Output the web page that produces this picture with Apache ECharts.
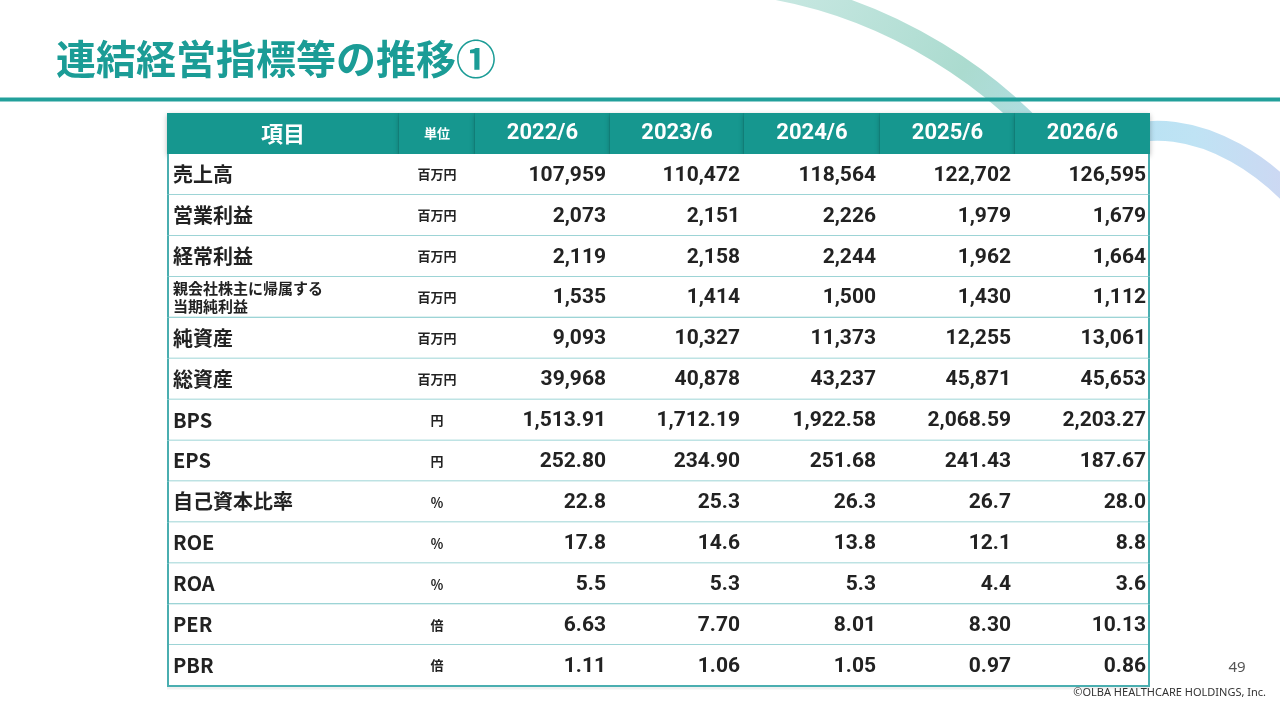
<!DOCTYPE html>
<html><head><meta charset="utf-8">
<script src="https://cdn.jsdelivr.net/npm/echarts@6/dist/echarts.min.js"></script>
<style>html,body{margin:0;padding:0;background:#fff}#c{width:1280px;height:720px}</style>
</head><body><div id="c"></div>
<script>
// ---- data ----
const titleText = '連結経営指標等の推移①';
const headerItem = '項目';
const headerUnit = '単位';
const years = ['2022/6', '2023/6', '2024/6', '2025/6', '2026/6'];
const items = ['売上高', '営業利益', '経常利益', '親会社株主に帰属する\n当期純利益', '純資産', '総資産', 'BPS', 'EPS', '自己資本比率', 'ROE', 'ROA', 'PER', 'PBR'];
const units = ['百万円', '百万円', '百万円', '百万円', '百万円', '百万円', '円', '円', '％', '％', '％', '倍', '倍'];
const decimals = [0, 0, 0, 0, 0, 0, 2, 2, 1, 1, 1, 2, 2];
const fy2022 = [107959, 2073, 2119, 1535, 9093, 39968, 1513.91, 252.80, 22.8, 17.8, 5.5, 6.63, 1.11];
const fy2023 = [110472, 2151, 2158, 1414, 10327, 40878, 1712.19, 234.90, 25.3, 14.6, 5.3, 7.70, 1.06];
const fy2024 = [118564, 2226, 2244, 1500, 11373, 43237, 1922.58, 251.68, 26.3, 13.8, 5.3, 8.01, 1.05];
const fy2025 = [122702, 1979, 1962, 1430, 12255, 45871, 2068.59, 241.43, 26.7, 12.1, 4.4, 8.30, 0.97];
const fy2026 = [126595, 1679, 1664, 1112, 13061, 45653, 2203.27, 187.67, 28.0, 8.8, 3.6, 10.13, 0.86];
const pageNumber = '49';
const copyright = '©OLBA HEALTHCARE HOLDINGS, Inc.';

// ---- layout (column widths in x-axis units) ----
const colWidths = [232, 76, 135, 134, 136, 135, 135];
const colEdges = [0];
colWidths.forEach(w => colEdges.push(colEdges[colEdges.length - 1] + w));
const rowsCat = ['header'].concat(items);
const yearValues = [fy2022, fy2023, fy2024, fy2025, fy2026];

function fmt(v, d) {
  return v.toLocaleString('en-US', { minimumFractionDigits: d, maximumFractionDigits: d });
}

const cells = [];
const headerTexts = [headerItem, headerUnit].concat(years);
headerTexts.forEach((t, c) => cells.push({ value: [(colEdges[c] + colEdges[c + 1]) / 2, 0, c], text: t }));
items.forEach((it, r) => {
  cells.push({ value: [(colEdges[0] + colEdges[1]) / 2, r + 1, 0], text: it });
  cells.push({ value: [(colEdges[1] + colEdges[2]) / 2, r + 1, 1], text: units[r] });
  yearValues.forEach((arr, k) => {
    const c = k + 2;
    cells.push({ value: [(colEdges[c] + colEdges[c + 1]) / 2, r + 1, c], text: fmt(arr[r], decimals[r]) });
  });
});

const NUM_FONT = 'Roboto, "Liberation Sans", sans-serif';
const JP_FONT = '"Noto Sans CJK JP", "Noto Sans", sans-serif';
const TEAL = '#16978f';

function renderItem(params, api) {
  const col = api.value(2);
  const row = api.value(1);
  const p0 = api.coord([colEdges[col], row]);
  const p1 = api.coord([colEdges[col + 1], row]);
  const h = api.size([0, 1])[1];
  const x0 = p0[0], x1 = p1[0], yc = p0[1];
  const top = yc - h / 2, bottom = yc + h / 2;
  const text = cells[params.dataIndex].text;
  const children = [];
  if (row === 0) {
    children.push({ type: 'rect', shape: { x: x0, y: top, width: x1 - x0, height: h },
      style: { fill: TEAL, shadowBlur: 5, shadowOffsetY: 2, shadowColor: 'rgba(0,0,0,0.28)' } });
    if (col < colWidths.length - 1) {
      children.push({ type: 'line', shape: { x1: x1, y1: top, x2: x1, y2: bottom },
        style: { stroke: 'rgba(0,60,60,0.18)', lineWidth: 1 } });
    }
    const fs = col === 1 ? 13 : 22;
    children.push({ type: 'text', x: (x0 + x1) / 2, y: yc,
      style: { text: text, fill: '#fff', fontSize: fs, fontWeight: 'bold',
        fontFamily: col >= 2 ? NUM_FONT : JP_FONT, align: 'center', verticalAlign: 'middle' } });
    return { type: 'group', z2: 10, children: children };
  }
  children.push({ type: 'rect', shape: { x: x0, y: top, width: x1 - x0, height: h }, style: { fill: '#fff' } });
  children.push({ type: 'line', shape: { x1: x0, y1: bottom + 2, x2: x1, y2: bottom + 2 },
    style: { stroke: 'rgba(0,0,0,0.06)', lineWidth: 3 } });
  const last = row === rowsCat.length - 1;
  children.push({ type: 'line', shape: { x1: x0, y1: bottom, x2: x1, y2: bottom },
    style: { stroke: last ? '#4aaeb0' : '#7cc6c8', lineWidth: last ? 2 : 1.6 } });
  if (col === 0) {
    children.push({ type: 'line', shape: { x1: x0 + 1, y1: top, x2: x0 + 1, y2: bottom },
      style: { stroke: '#4aaeb0', lineWidth: 2 } });
  }
  if (col === colWidths.length - 1) {
    children.push({ type: 'line', shape: { x1: x1 - 1, y1: top, x2: x1 - 1, y2: bottom },
      style: { stroke: '#4aaeb0', lineWidth: 2 } });
  }
  if (col === 0) {
    const small = text.indexOf('\n') >= 0;
    children.push({ type: 'text', x: x0 + 6, y: yc,
      style: { text: text, fill: '#222', fontSize: small ? 15 : 20, fontWeight: 'bold',
        lineHeight: small ? 18 : 24, fontFamily: JP_FONT, align: 'left', verticalAlign: 'middle' } });
  } else if (col === 1) {
    children.push({ type: 'text', x: (x0 + x1) / 2, y: yc,
      style: { text: text, fill: '#222', fontSize: 13, fontWeight: 'bold', fontFamily: JP_FONT,
        align: 'center', verticalAlign: 'middle' } });
  } else {
    children.push({ type: 'text', x: x1 - 4, y: yc + 1,
      style: { text: text, fill: '#222', fontSize: 21, fontWeight: 'bold', fontFamily: NUM_FONT,
        align: 'right', verticalAlign: 'middle' } });
  }
  return { type: 'group', children: children };
}

const chart = echarts.init(document.getElementById('c'), null, { renderer: 'canvas' });
chart.setOption({
  backgroundColor: '#fff',
  animation: false,
  grid: { left: 167, right: 130, top: 113, bottom: 34, containLabel: false },
  xAxis: { type: 'value', min: 0, max: colEdges[colEdges.length - 1], show: false },
  yAxis: { type: 'category', data: rowsCat, inverse: true, show: false },
  graphic: [
    { type: 'bezierCurve', z: 1, silent: true,
      shape: { x1: 765, y1: -12, cpx1: 890, cpy1: 8, cpx2: 1000, cpy2: 80, x2: 1065, y2: 165 },
      style: { fill: null, lineWidth: 20, lineCap: 'butt',
        stroke: new echarts.graphic.LinearGradient(0, 0, 1, 1, [
          { offset: 0, color: 'rgba(160,215,205,0.55)' },
          { offset: 0.6, color: 'rgba(150,210,195,0.8)' },
          { offset: 1, color: 'rgba(160,215,235,0.8)' }]) } },
    { type: 'bezierCurve', z: 1, silent: true,
      shape: { x1: 1090, y1: 160, cpx1: 1120, cpy1: 118, cpx2: 1215, cpy2: 112, x2: 1300, y2: 205 },
      style: { fill: null, lineWidth: 20, lineCap: 'butt',
        stroke: new echarts.graphic.LinearGradient(0, 0, 1, 0, [
          { offset: 0, color: 'rgba(170,222,242,0.9)' },
          { offset: 0.5, color: 'rgba(180,222,242,0.85)' },
          { offset: 1, color: 'rgba(200,205,240,0.85)' }]) } },
    { type: 'rect', z: 5, silent: true, shape: { x: 0, y: 97.5, width: 1280, height: 4 }, style: { fill: '#22a09b' } },
    { type: 'text', z: 5, left: 56, top: 39,
      style: { text: titleText, fill: '#1b9c96', fontSize: 40, fontWeight: 'bold', fontFamily: JP_FONT } },
    { type: 'text', z: 5, x: 1237, y: 668,
      style: { text: pageNumber, fill: '#555', fontSize: 15, fontFamily: '"Noto Sans", sans-serif', align: 'center', verticalAlign: 'middle' } },
    { type: 'text', z: 5, x: 1266, y: 693,
      style: { text: copyright, fill: '#333', fontSize: 11, fontFamily: '"Noto Sans", sans-serif', align: 'right', verticalAlign: 'middle' } }
  ],
  series: [{
    type: 'custom',
    z: 3,
    renderItem: renderItem,
    encode: { x: 0, y: 1 },
    data: cells
  }]
});
</script>
</body></html>
